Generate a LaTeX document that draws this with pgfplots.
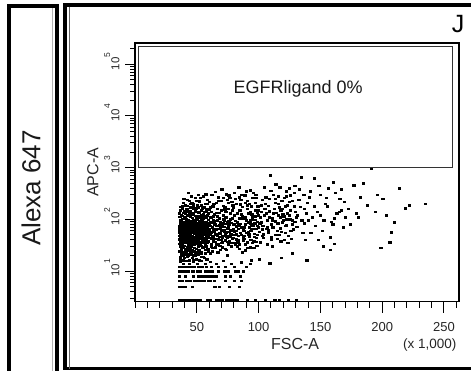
\documentclass[border=0pt]{standalone}
\usepackage{fontspec}
\setmainfont{Liberation Sans}
\usepackage{pgfplots}
\pgfplotsset{compat=1.18}
\newcommand{\fs}[1]{\fontsize{#1}{#1}\selectfont}
\newcommand{\tl}[1]{10\raisebox{0.8em}{\fs{8.5}#1}}
\begin{document}
\begin{tikzpicture}
\useasboundingbox (0pt,0pt) rectangle (471pt,370pt);
% outer panel frames
\draw[line width=4pt] (9pt,-10pt) -- (9pt,364pt) -- (57pt,364pt) -- (57pt,-10pt);
\draw[line width=1pt, black!30] (52pt,-10pt) -- (52pt,362pt);
\draw[line width=4pt] (480pt,365pt) -- (65pt,365pt) -- (65pt,1.5pt);
\draw[line width=3pt] (63pt,1.5pt) -- (480pt,1.5pt);
\draw[line width=0.6pt, black!60] (68.8pt,1.5pt) -- (68.8pt,363pt);
\node[rotate=90, font=\fs{26}, text=black!90] at (31pt,182pt) {Alexa 647};
\node[font=\fs{25}] at (458pt,346pt) {J};
\begin{axis}[
  at={(135pt,68.5pt)}, anchor=south west,
  scale only axis, width=324pt, height=258.5pt,
  xmin=0, xmax=262.144,
  ymode=log, ymin=2.57, ymax=258000,
  axis line style={black, line width=1.1pt},
  xtick align=outside, ytick align=outside,
  xtick pos=bottom, ytick pos=left,
  every tick/.style={black, line width=1pt},
  every minor tick/.style={black, line width=1pt},
  major tick length=9pt, minor tick length=5pt,
  xtick={50,100,150,200,250},
  xticklabels={50,100,150,200,250},
  minor xtick={0,10,20,30,40,60,70,80,90,110,120,130,140,160,170,180,190,210,220,230,240,260},
  ytick={10,100,1000,10000,100000},
  yticklabels={\tl{1},\tl{2},\tl{3},\tl{4},\tl{5}},
  minor ytick={3,4,5,6,7,8,9,20,30,40,50,60,70,80,90,200,300,400,500,600,700,800,900,2000,3000,4000,5000,6000,7000,8000,9000,20000,30000,40000,50000,60000,70000,80000,90000,200000},
  xticklabel style={font=\fs{13}, text=black!85, yshift=-8pt},
  yticklabel style={rotate=90, anchor=south, xshift=3pt, yshift=3pt, font=\fs{11.5}, text=black!85},
  xlabel={FSC-A}, ylabel={APC-A},
  xlabel style={at={(axis description cs:0.494,-0.166)}, anchor=center, font=\fs{16}, text=black!85},
  ylabel style={at={(axis description cs:-0.13,0.5)}, anchor=center, font=\fs{16}, text=black!85},
  clip=false,
]
% tick marks (drawn explicitly)
\pgfplotsinvokeforeach{0,10,20,30,40,60,70,80,90,110,120,130,140,160,170,180,190,210,220,230,240,260}{
  \draw[black, line width=1pt] (axis cs:#1,2.57) -- ([yshift=-6pt]axis cs:#1,2.57);}
\pgfplotsinvokeforeach{50,100,150,200,250}{
  \draw[black, line width=1pt] (axis cs:#1,2.57) -- ([yshift=-11pt]axis cs:#1,2.57);}
\pgfplotsinvokeforeach{3,4,5,6,7,8,9,20,30,40,50,60,70,80,90,200,300,400,500,600,700,800,900,2000,3000,4000,5000,6000,7000,8000,9000,20000,30000,40000,50000,60000,70000,80000,90000,200000}{
  \draw[black, line width=1pt] (axis cs:0,#1) -- ([xshift=-5pt]axis cs:0,#1);}
\pgfplotsinvokeforeach{10,100,1000,10000,100000}{
  \draw[black, line width=1pt] (axis cs:0,#1) -- ([xshift=-10pt]axis cs:0,#1);}
% gate
\draw[black!80, line width=1pt] (axis cs:3,1000) rectangle (axis cs:257,216000);
\node[font=\fs{18}, text=black!90] at (axis cs:132,33000) {EGFRligand 0\%};
\node[font=\fs{13.5}, text=black!85] at (axis description cs:0.91,-0.168) {(x 1,000)};
% main cloud
\addplot[only marks, mark=square*, mark size=0.8pt, mark options={xscale=1.4, draw=none, fill=black}] coordinates {
(36.2,42) (37.5,58) (38.1,33) (39.4,71) (40.6,27) (41.3,49) (42.8,88) (43.5,36) (44.1,62) (35.8,24) (36.9,95) (38.7,45) (39.9,31) (40.2,66) (41.8,52) (42.3,29) (43.9,77) (44.7,41) (35.6,55) (37.1,38)
(38.4,103) (39.2,22) (40.9,83) (41.6,35) (42.5,60) (43.2,47) (44.4,115) (36.5,30) (37.8,72) (39.6,57) (40.4,40) (41.1,26) (42.1,98) (43.7,54) (44.9,33) (35.9,67) (37.3,46) (38.9,85) (39.8,37) (40.7,130)
(41.9,64) (42.7,43) (43.4,25) (44.2,92) (36.1,112) (37.6,28) (38.2,61) (39.1,44) (40.1,75) (41.4,39) (42.9,56) (43.1,140) (44.6,70) (35.7,40) (36.7,80) (38.6,23) (39.7,105) (40.8,48) (41.7,21) (42.4,73)
(43.8,31) (44.8,59) (36.4,51) (37.9,34) (38.8,68) (40.3,90) (41.2,57) (42.6,38) (43.3,82) (44.3,46) (35.5,74) (37.2,120) (38.3,39) (39.5,53) (40.5,35) (41.5,78) (42.2,27) (43.6,63) (44.5,50) (36.8,19)
(38.0,160) (39.3,89) (40.0,18) (41.0,45) (42.0,185) (43.0,20) (44.0,128) (36.3,150) (37.4,65) (39.0,210) (40.4,58) (41.8,99) (42.8,32) (43.9,44) (37.7,48) (38.5,76) (36.6,86) (44.6,170) (35.9,34) (42.1,240)
(45.3,48) (46.1,72) (46.8,33) (47.4,95) (48.2,41) (48.9,58) (49.6,27) (50.3,84) (51.1,46) (51.8,65) (52.5,37) (53.2,110) (53.9,52) (54.7,29) (55.4,78) (56.1,43) (56.8,61) (57.5,90) (58.3,35) (59.1,55)
(45.7,124) (46.5,39) (47.1,63) (47.9,28) (48.6,81) (49.3,50) (50.0,36) (50.7,68) (51.5,135) (52.2,44) (52.9,74) (53.6,31) (54.3,57) (55.0,102) (55.8,40) (56.5,26) (57.2,69) (57.9,48) (58.7,120) (59.5,38)
(45.1,60) (45.9,25) (46.3,88) (47.6,45) (48.4,150) (49.1,34) (49.8,76) (50.5,53) (51.3,24) (52.0,92) (52.7,59) (53.4,42) (54.1,165) (54.9,66) (55.6,35) (56.3,85) (57.0,51) (57.7,30) (58.5,73) (59.3,99)
(45.5,36) (46.7,55) (47.3,180) (48.0,67) (48.7,23) (49.4,105) (50.2,43) (50.9,31) (51.7,79) (52.4,56) (53.1,22) (53.8,87) (54.5,47) (55.2,128) (56.0,58) (56.7,39) (57.4,145) (58.1,62) (58.9,27) (59.7,81)
(45.8,210) (47.0,20) (48.5,260) (50.1,190) (51.9,225) (53.5,19) (55.1,280) (56.9,200) (58.6,240) (46.2,108) (49.0,118) (52.1,140) (54.6,96) (57.8,108) (59.9,155) (47.8,53) (50.6,62) (53.3,70) (56.4,74) (59.2,47)
(60.4,52) (61.2,88) (61.9,34) (62.7,71) (63.5,45) (64.2,125) (65.0,29) (65.8,63) (66.5,97) (67.3,41) (68.1,76) (68.8,54) (69.6,150) (70.4,36) (71.1,84) (71.9,58) (72.7,27) (73.4,110) (74.2,47) (75.0,68)
(75.8,92) (76.5,38) (77.3,130) (78.1,60) (78.9,43) (79.6,79) (60.8,170) (61.6,43) (62.3,24) (63.1,99) (63.9,59) (64.7,37) (65.4,210) (66.2,49) (67.0,66) (67.7,135) (68.5,31) (69.2,89) (70.0,62) (70.8,44)
(71.5,185) (72.3,72) (73.1,39) (73.8,57) (74.6,240) (75.4,33) (76.1,81) (76.9,52) (77.7,30) (78.5,105) (79.3,65) (60.1,62) (61.4,30) (62.9,48) (64.4,80) (65.6,42) (66.9,23) (68.3,104) (69.8,40) (71.3,120)
(72.9,51) (74.0,83) (75.6,160) (77.0,46) (78.3,220) (79.8,35) (62.0,300) (64.9,340) (67.5,270) (70.2,380) (73.6,310) (76.7,260) (79.1,190) (63.3,115) (66.0,75) (69.0,26) (72.0,95) (74.9,20) (77.9,86) (61.0,22)
(80.5,58) (81.3,94) (82.1,41) (82.9,130) (83.7,66) (84.5,33) (85.3,82) (86.1,50) (86.9,175) (87.7,39) (88.5,71) (89.3,110) (90.1,55) (90.9,28) (91.7,88) (92.5,46) (93.3,140) (94.1,62) (94.9,35) (95.7,98)
(96.5,53) (97.3,210) (98.1,44) (98.9,75) (99.7,120) (80.9,250) (82.5,30) (84.1,105) (85.7,300) (87.3,62) (88.9,25) (90.5,160) (92.1,70) (93.7,40) (95.3,260) (96.9,84) (98.5,31) (81.7,73) (83.3,48) (84.9,195)
(86.5,115) (88.1,42) (89.7,350) (91.3,57) (92.9,95) (94.5,125) (96.1,38) (97.7,66) (99.3,180) (83.9,420) (87.0,23) (91.0,230) (94.0,80) (97.0,150) (99.0,50)
(100.8,85) (102.3,140) (103.9,52) (105.4,200) (107.0,70) (108.6,110) (110.1,45) (111.7,300) (113.2,92) (114.8,60) (116.4,170) (117.9,38) (119.5,125) (121.0,260) (122.6,78) (124.2,48) (125.7,150) (127.3,95) (128.8,330) (101.5,36)
(104.6,420) (106.2,130) (109.3,720) (112.4,160) (115.5,85) (118.7,230) (121.8,55) (124.9,400) (128.0,65) (102.9,240) (106.8,33) (110.9,105) (113.9,480) (117.2,68) (120.3,115) (123.4,190) (126.5,42) (129.6,140) (103.4,75) (108.0,55)
(111.2,30) (116.0,280) (119.0,88) (122.1,350) (125.3,100) (107.5,185) (114.3,135) (120.8,40)
(131.5,120) (134.2,660) (136.8,85) (139.4,210) (142.1,55) (144.8,620) (147.3,140) (149.9,300) (152.6,95) (155.2,180) (157.8,45) (160.5,520) (163.1,130) (165.7,250) (168.4,70) (133.0,380) (138.0,40) (143.5,110) (148.6,450) (153.9,200)
(158.9,90) (162.0,330) (166.9,150) (137.2,160) (146.0,75) (151.2,60) (156.5,400) (161.3,105) (169.5,220) (140.8,270)
(172.5,160) (176.9,460) (180.3,110) (184.9,500) (188.1,190) (191.2,950) (194.6,140) (198.8,28) (200.5,250) (203.0,120) (206.1,36) (207.2,57) (210.0,89) (213.9,400) (218.8,166) (222.0,190) (235.0,200) (174.4,80) (182.5,270) (196.0,300) (178.9,130)
(109,14) (139,16) (118,18) (127,22) (100.5,17) (94,16) (86,15) (152,30) (158,26) (161,34)
(36.0,62) (37.0,52) (38.0,90) (39.0,63) (40.0,50) (41.0,70) (42.0,45) (43.0,95) (44.0,38) (45.0,82) (46.0,47) (47.0,125) (48.0,37) (49.0,88) (50.0,59) (51.0,41) (52.0,66) (53.0,48) (54.0,120) (55.0,44)
(36.5,45) (37.5,84) (38.5,55) (39.5,40) (40.5,110) (41.5,61) (42.5,86) (43.5,52) (44.5,28) (45.5,70) (46.5,92) (47.5,32) (48.5,55) (49.5,140) (50.5,38) (51.5,58) (52.5,83) (53.5,35) (54.5,65) (55.5,52)
(35.7,48) (36.8,36) (37.9,118) (39.0,29) (40.1,57) (41.2,100) (42.3,50) (43.4,66) (44.5,80) (45.6,42) (46.7,63) (47.8,78) (48.9,45) (50.0,100) (51.1,30) (52.2,48) (53.3,58) (54.4,39) (55.5,90) (56.6,55)
(57.7,40) (58.8,86) (59.9,60) (36.3,70) (38.7,135) (41.9,155) (44.9,145) (47.2,200) (50.8,170) (53.7,150) (56.2,115) (59.0,130) (37.0,175) (40.8,190) (43.8,230) (46.9,160) (49.7,230) (52.9,260) (55.8,170) (58.4,200)
(60.7,75) (61.9,56) (63.0,38) (64.1,92) (65.3,51) (66.4,115) (67.6,34) (68.7,68) (69.9,85) (71.0,48) (72.2,62) (73.3,140) (74.5,37) (75.6,76) (76.8,100) (77.9,53) (79.1,44) (80.2,120) (81.4,60) (82.5,88)
(83.7,40) (84.8,150) (86.0,70) (87.1,102) (88.3,48) (89.4,80) (90.6,36) (91.7,130) (92.9,60) (94.0,180) (95.2,75) (96.3,46) (97.5,98) (98.6,135) (99.8,70) (61.5,140) (63.7,200) (66.7,160) (69.3,230) (72.5,175)
(75.2,210) (78.8,150) (82.0,200) (85.5,240) (88.7,290) (92.3,200) (95.8,330) (98.0,260) (62.4,28) (65.9,33) (70.6,29) (74.0,26) (77.5,35) (81.0,32) (84.2,27) (89.0,33) (93.5,29) (97.8,37) (64.0,65) (68.0,55)
(71.8,100) (76.0,58) (80.0,80) (85.0,55) (90.0,95) (95.0,110) (99.0,90)
(101.2,110) (103.1,65) (104.9,160) (106.7,95) (108.4,250) (110.3,80) (112.1,130) (113.8,50) (115.7,200) (117.5,110) (119.2,160) (121.3,75) (123.0,130) (124.8,220) (126.9,80) (128.5,180) (130.3,110) (132.4,240) (134.8,95) (136.5,300)
(102.0,190) (105.8,270) (109.7,360) (113.5,250) (117.0,420) (121.5,180) (125.6,290) (129.2,450) (133.6,175) (138.5,130) (100.2,58) (104.0,44) (107.9,62) (111.5,70) (115.0,42) (118.2,58) (122.8,100) (126.0,60) (130.8,72) (135.6,55)
(36.3,17) (37.8,21) (39.2,16) (40.7,23) (42.1,19) (43.6,16) (45.0,22) (46.4,18) (47.9,24) (49.3,17) (50.8,21) (52.2,16) (53.7,23) (55.1,19) (56.6,22) (58.0,17) (59.5,24) (37.1,25) (41.4,24) (44.3,21) (48.6,20) (51.9,25) (55.9,18) (38.9,20) (46.9,16)
(35.8,58) (36.9,44) (38.0,78) (39.1,36) (40.2,52) (41.3,92) (42.4,40) (43.5,71) (44.6,55) (45.7,30) (46.8,80) (47.9,60) (49.0,42) (50.1,72) (51.2,53) (52.3,34) (53.4,95) (54.5,50) (55.6,68) (56.7,33) (57.8,77) (58.9,45) (59.6,66)
(36.6,39) (38.3,50) (40.0,88) (41.7,42) (43.4,58) (45.1,46) (46.8,40) (48.5,70) (50.2,50) (51.9,60) (53.6,45) (55.3,62) (57.0,88) (58.7,52)
(36.0,130) (38.2,180) (40.3,145) (42.5,120) (44.7,200) (46.9,135) (49.1,165) (51.3,115) (53.5,190) (55.7,140) (57.9,160) (59.8,220) (39.4,250) (45.4,280) (51.0,300) (57.2,310) (43.0,330)
(61.3,110) (63.6,64) (65.8,135) (68.0,46) (70.3,73) (72.6,155) (74.8,90) (77.1,62) (79.4,170) (81.6,52) (83.9,78) (86.2,125) (88.4,60) (90.7,190) (93.0,85) (95.2,66) (97.5,115) (99.8,150) (102.0,88) (104.3,120)
(106.6,66) (108.8,145) (111.1,95) (113.4,210) (115.6,120) (117.9,150) (120.2,96) (122.4,280) (124.7,120) (127.0,230) (129.2,90) (62.8,180) (67.2,230) (71.5,260) (75.9,290) (80.3,330) (84.6,270) (88.9,210) (93.3,370) (97.6,300)
(64.5,42) (69.5,35) (74.3,44) (79.0,50) (83.0,36) (87.8,45) (92.0,52) (96.0,28) (103.0,48) (110.0,40) (116.5,50) (123.5,35)
(140,95) (145,180) (150,120) (155,260) (160,80) (165,140) (170,110) (148,40) (142,350) (167,380)
};
% quantized low rows
\addplot[only marks, mark=square*, mark size=0.75pt, mark options={xscale=1.4, draw=none, fill=black}] coordinates {
(36.5,15) (39.1,14) (41.7,16) (44.2,14) (47.3,15) (50.5,14) (53.6,16) (57.0,14) (61.0,15) (66.0,14) (71.5,16) (78.0,14) (86.0,15) (93,14)
(36.2,12) (38.6,12) (40.4,12) (42.9,12) (45.3,12) (48.0,12) (51.2,12) (54.0,12) (57.9,12) (62.0,12) (67.5,12) (73.0,12) (80.0,12) (90.0,12)
(35.9,10) (37.1,10) (38.4,10) (40.8,10) (42.1,10) (43.4,10) (46.0,10) (47.3,10) (50.0,10) (51.4,10) (52.8,10) (57.2,10) (60.1,10) (62.5,10) (67.0,10) (72.3,10) (75.0,10) (80.9,10) (83.6,10) (87.5,10)
(35.5,8) (40.5,8) (47.0,8) (51.0,8) (52.5,8) (54.0,8) (55.6,8) (57.1,8) (58.7,8) (60.3,8) (61.9,8) (63.5,8) (65.8,8) (73.0,8) (77.0,8) (85.0,8)
(35.5,6.5) (37.0,6.5) (38.5,6.5) (41.6,6.5) (43.1,6.5) (44.7,6.5) (47.8,6.5) (49.3,6.5) (50.9,6.5) (54.0,6.5) (55.6,6.5) (58.9,6.5) (60.6,6.5) (64.0,6.5) (73.0,6.5) (80.0,6.5) (86.0,6.5)
(35.5,5) (38.0,5) (40.5,5) (46.0,5) (64.5,5) (68.0,5) (76.0,5) (84.0,5)
};
% bottom (off-scale) row
\addplot[only marks, mark=square*, mark size=0.75pt, mark options={xscale=1.4, draw=none, fill=black}] coordinates {
(35.6,2.8) (36.4,2.8) (37.3,2.8) (38.1,2.8) (39.0,2.8) (39.8,2.8) (40.7,2.8) (41.5,2.8) (42.4,2.8) (43.2,2.8) (44.1,2.8) (45.0,2.8) (45.9,2.8) (46.8,2.8) (47.7,2.8) (48.6,2.8) (49.5,2.8) (50.4,2.8) (51.3,2.8) (52.2,2.8) (53.0,2.8)
(58.2,2.8) (59.4,2.8) (60.6,2.8) (66.0,2.8) (67.3,2.8) (68.8,2.8) (70.4,2.8) (74.2,2.8) (75.6,2.8) (77.1,2.8) (78.5,2.8) (80.3,2.8) (82.5,2.8) (90.5,2.8) (97.0,2.8) (105.0,2.8) (113.0,2.8) (117.0,2.8) (124.0,2.8) (130.5,2.8)
};
\end{axis}
\end{tikzpicture}
\end{document}
